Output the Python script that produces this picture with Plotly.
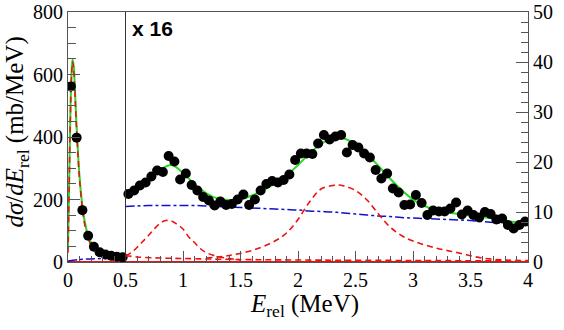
import plotly.graph_objects as go

# ---------------- data ----------------
# low-energy region (left axis, mb/MeV)
x_low = [0.025, 0.075, 0.125, 0.175, 0.225, 0.275, 0.325, 0.375, 0.425, 0.475]
y_low = [562, 398, 166, 84, 49, 31, 24, 20, 17, 15]
err_low = [12, 10, 6, 4, 3, 2, 2, 2, 2, 2]

# high-energy region (right axis, shown x16)
x_high = [0.525, 0.575, 0.625, 0.675, 0.725, 0.775, 0.825, 0.875, 0.925, 0.975,
          1.025, 1.075, 1.125, 1.175, 1.225, 1.275, 1.325, 1.375, 1.425, 1.475,
          1.525, 1.575, 1.625, 1.675, 1.725, 1.775, 1.825, 1.875, 1.925, 1.975,
          2.025, 2.075, 2.125, 2.175, 2.225, 2.275, 2.325, 2.375, 2.425, 2.475,
          2.525, 2.575, 2.625, 2.675, 2.725, 2.775, 2.825, 2.875, 2.925, 2.975,
          3.025, 3.075, 3.125, 3.175, 3.225, 3.275, 3.325, 3.375, 3.425, 3.475,
          3.525, 3.575, 3.625, 3.675, 3.725, 3.775, 3.825, 3.875, 3.925, 3.975]
y_high = [13.6, 14.3, 15.3, 15.9, 17.1, 18.3, 18.0, 21.2, 20.1, 16.5,
          17.7, 15.4, 14.3, 13.0, 12.3, 11.3, 12.1, 11.4, 11.6, 12.5,
          13.5, 11.4, 12.5, 14.3, 15.6, 16.2, 15.9, 16.4, 17.5, 20.4,
          21.7, 21.7, 21.6, 23.7, 25.4, 24.5, 25.1, 25.4, 21.9, 23.4,
          22.9, 21.7, 20.9, 18.4, 16.7, 17.7, 14.7, 13.9, 11.4, 11.5,
          13.4, 11.8, 9.4, 10.3, 10.1, 10.1, 10.7, 11.9, 9.5, 10.3,
          9.4, 8.9, 10.0, 9.6, 8.5, 8.7, 7.4, 6.7, 7.4, 8.1]
err_high = [0.6] * len(x_high)

# fit curves, low region (left axis)
xc_low = [0.0, 0.01, 0.02, 0.03, 0.04, 0.05, 0.06, 0.07, 0.08, 0.09, 0.10,
          0.12, 0.14, 0.16, 0.18, 0.20, 0.25, 0.30, 0.35, 0.40, 0.45, 0.50]
green_low = [40, 250, 460, 600, 650, 625, 555, 470, 395, 330, 275,
             195, 140, 105, 80, 63, 40, 28, 21, 17, 15, 13]
red_low = [30, 242, 451, 590, 640, 615, 545, 460, 386, 321, 267,
           187, 131, 96, 71, 54, 30, 17, 10, 6, 3, 2]
xb_low = [0.0, 0.1, 0.2, 0.3, 0.4, 0.5]
blue_low = [3, 8, 10, 11, 11.2, 11.1]

# fit curves, high region (right axis)
xc_high = [0.5, 0.6, 0.7, 0.8, 0.9, 1.0, 1.1, 1.2, 1.3, 1.4, 1.5, 1.6, 1.7, 1.8,
           1.9, 2.0, 2.1, 2.2, 2.3, 2.4, 2.5, 2.6, 2.7, 2.8, 2.9, 3.0, 3.1, 3.2,
           3.3, 3.4, 3.5, 3.6, 3.7, 3.8, 3.9, 4.0]
green_high = [13.3, 14.6, 16.3, 18.4, 19.4, 17.8, 15.6, 13.8, 12.7, 12.4, 12.6,
              13.3, 14.4, 15.7, 17.3, 19.4, 21.7, 23.6, 24.8, 24.7, 23.5, 21.6,
              19.2, 16.7, 14.4, 12.5, 11.2, 10.4, 9.9, 9.6, 9.3, 9.0, 8.7, 8.3,
              7.9, 7.5]
blue_high = [11.1, 11.2, 11.3, 11.3, 11.3, 11.3, 11.3, 11.2, 11.1, 11.0, 10.9,
             10.8, 10.7, 10.6, 10.5, 10.4, 10.2, 10.1, 10.0, 9.8, 9.6, 9.4, 9.2,
             9.1, 8.9, 8.8, 8.7, 8.6, 8.5, 8.4, 8.3, 8.1, 7.9, 7.7, 7.5, 7.3]

x_r0 = [0.5, 0.6, 0.8, 1.0, 1.5, 2.0, 3.0, 4.0]
red_r0 = [1.3, 1.0, 0.8, 0.7, 0.5, 0.4, 0.3, 0.2]
x_r1 = [0.5, 0.55, 0.6, 0.65, 0.7, 0.75, 0.8, 0.85, 0.9, 0.95, 1.0, 1.05,
        1.1, 1.15, 1.2, 1.3, 1.4, 1.5]
red_r1 = [1.2, 1.9, 2.9, 4.1, 5.3, 6.6, 7.7, 8.3, 8.2, 7.5, 6.6, 5.0,
          3.9, 2.7, 1.9, 1.1, 0.7, 0.4]
x_r2 = [1.2, 1.4, 1.6, 1.8, 1.9, 2.0, 2.1, 2.2, 2.3, 2.35, 2.4, 2.5, 2.6,
        2.7, 2.8, 2.9, 3.0, 3.2, 3.4, 3.6, 3.8, 4.0]
red_r2 = [0.8, 1.3, 2.3, 4.2, 5.8, 8.5, 12.0, 14.6, 15.3, 15.4, 15.2, 14.3,
          12.4, 9.6, 7.0, 5.3, 4.2, 2.8, 1.8, 0.8, 0.4, 0.3]

zero_x = [0, 4]
zero_y = [0, 0]
separator_x = 0.5

x_ticks = [0, 0.5, 1, 1.5, 2, 2.5, 3, 3.5, 4]
x_ticktext = ["0", "0.5", "1", "1.5", "2", "2.5", "3", "3.5", "4"]

# ---------------- styles ----------------
GREEN = "#22dd22"
RED = "#ee1111"
BLUE = "#1111cc"
ERR = "#6666ee"
AX = "#555555"
FONT = "Liberation Serif, Times New Roman, serif"

fig = go.Figure()

fig.add_trace(go.Scatter(x=zero_x, y=zero_y, mode="lines",
                         line=dict(color=RED, width=2), yaxis="y"))

# low region curves
fig.add_trace(go.Scatter(x=xb_low, y=blue_low, mode="lines", yaxis="y",
                         line=dict(color=BLUE, width=1.5, dash="dashdot", shape="spline")))
fig.add_trace(go.Scatter(x=xc_low, y=green_low, mode="lines", yaxis="y",
                         line=dict(color=GREEN, width=2, shape="spline")))
fig.add_trace(go.Scatter(x=xc_low, y=red_low, mode="lines", yaxis="y",
                         line=dict(color=RED, width=1.6, dash="6px,4px", shape="spline")))

# high region curves
fig.add_trace(go.Scatter(x=xc_high, y=blue_high, mode="lines", yaxis="y2",
                         line=dict(color=BLUE, width=1.5, dash="dashdot", shape="spline")))
for xs, ys in [(x_r0, red_r0), (x_r1, red_r1), (x_r2, red_r2)]:
    fig.add_trace(go.Scatter(x=xs, y=ys, mode="lines", yaxis="y2",
                             line=dict(color=RED, width=1.6, dash="6px,4px", shape="spline")))
fig.add_trace(go.Scatter(x=xc_high, y=green_high, mode="lines", yaxis="y2",
                         line=dict(color=GREEN, width=2, shape="spline")))

# data points
fig.add_trace(go.Scatter(x=x_low, y=y_low, mode="markers", yaxis="y",
                         marker=dict(color="black", size=10),
                         error_y=dict(type="data", array=err_low, color=ERR,
                                      thickness=1, width=3)))
fig.add_trace(go.Scatter(x=x_high, y=y_high, mode="markers", yaxis="y2",
                         marker=dict(color="black", size=10),
                         error_y=dict(type="data", array=err_high, color=ERR,
                                      thickness=1, width=3)))

fig.add_vline(x=separator_x, line=dict(color="#333333", width=1))

fig.update_layout(
    width=564, height=330,
    margin=dict(l=68, r=36, t=12, b=68, autoexpand=False),
    paper_bgcolor="white", plot_bgcolor="white",
    showlegend=False,
    font=dict(family=FONT, size=20, color="black"),
    xaxis=dict(range=[0, 4], tickvals=x_ticks, ticktext=x_ticktext,
               ticks="inside", ticklen=11, tickcolor=AX, automargin=False,
               minor=dict(ticks="inside", dtick=0.1, ticklen=6, tickcolor=AX),
               showline=True, linecolor=AX, linewidth=1, mirror=True,
               showgrid=False, zeroline=False,
               tickfont=dict(family=FONT, size=20)),
    yaxis=dict(range=[0, 800], dtick=200, ticks="inside", ticklen=12, tickcolor=AX,
               minor=dict(ticks="inside", dtick=50, ticklen=8, tickcolor=AX),
               showline=True, linecolor=AX, linewidth=1, automargin=False,
               showgrid=False, zeroline=False,
               tickfont=dict(family=FONT, size=20)),
    yaxis2=dict(range=[0, 50], dtick=10, overlaying="y", side="right",
                ticks="inside", ticklen=12, tickcolor=AX, automargin=False,
                minor=dict(ticks="inside", dtick=2, ticklen=7, tickcolor=AX),
                showline=True, linecolor=AX, linewidth=1,
                showgrid=False, zeroline=False,
                tickfont=dict(family=FONT, size=20)),
)

fig.add_annotation(text="<i>dσ</i>/<i>dE</i><sub>rel</sub> (mb/MeV)",
                   xref="paper", yref="paper", x=-0.112, y=0.52,
                   xanchor="center", yanchor="middle", textangle=-90,
                   showarrow=False, font=dict(family=FONT, size=25))
fig.add_annotation(text="<i>E</i><sub>rel</sub> (MeV)",
                   xref="paper", yref="paper", x=0.515, y=-0.172,
                   xanchor="center", yanchor="middle",
                   showarrow=False, font=dict(family=FONT, size=25))
fig.add_annotation(text="<b>x 16</b>", xref="x", yref="paper",
                   x=0.54, y=0.935, xanchor="left", yanchor="middle",
                   showarrow=False, font=dict(family="Liberation Sans, Arial, sans-serif", size=21))

fig.write_html("out.html")
